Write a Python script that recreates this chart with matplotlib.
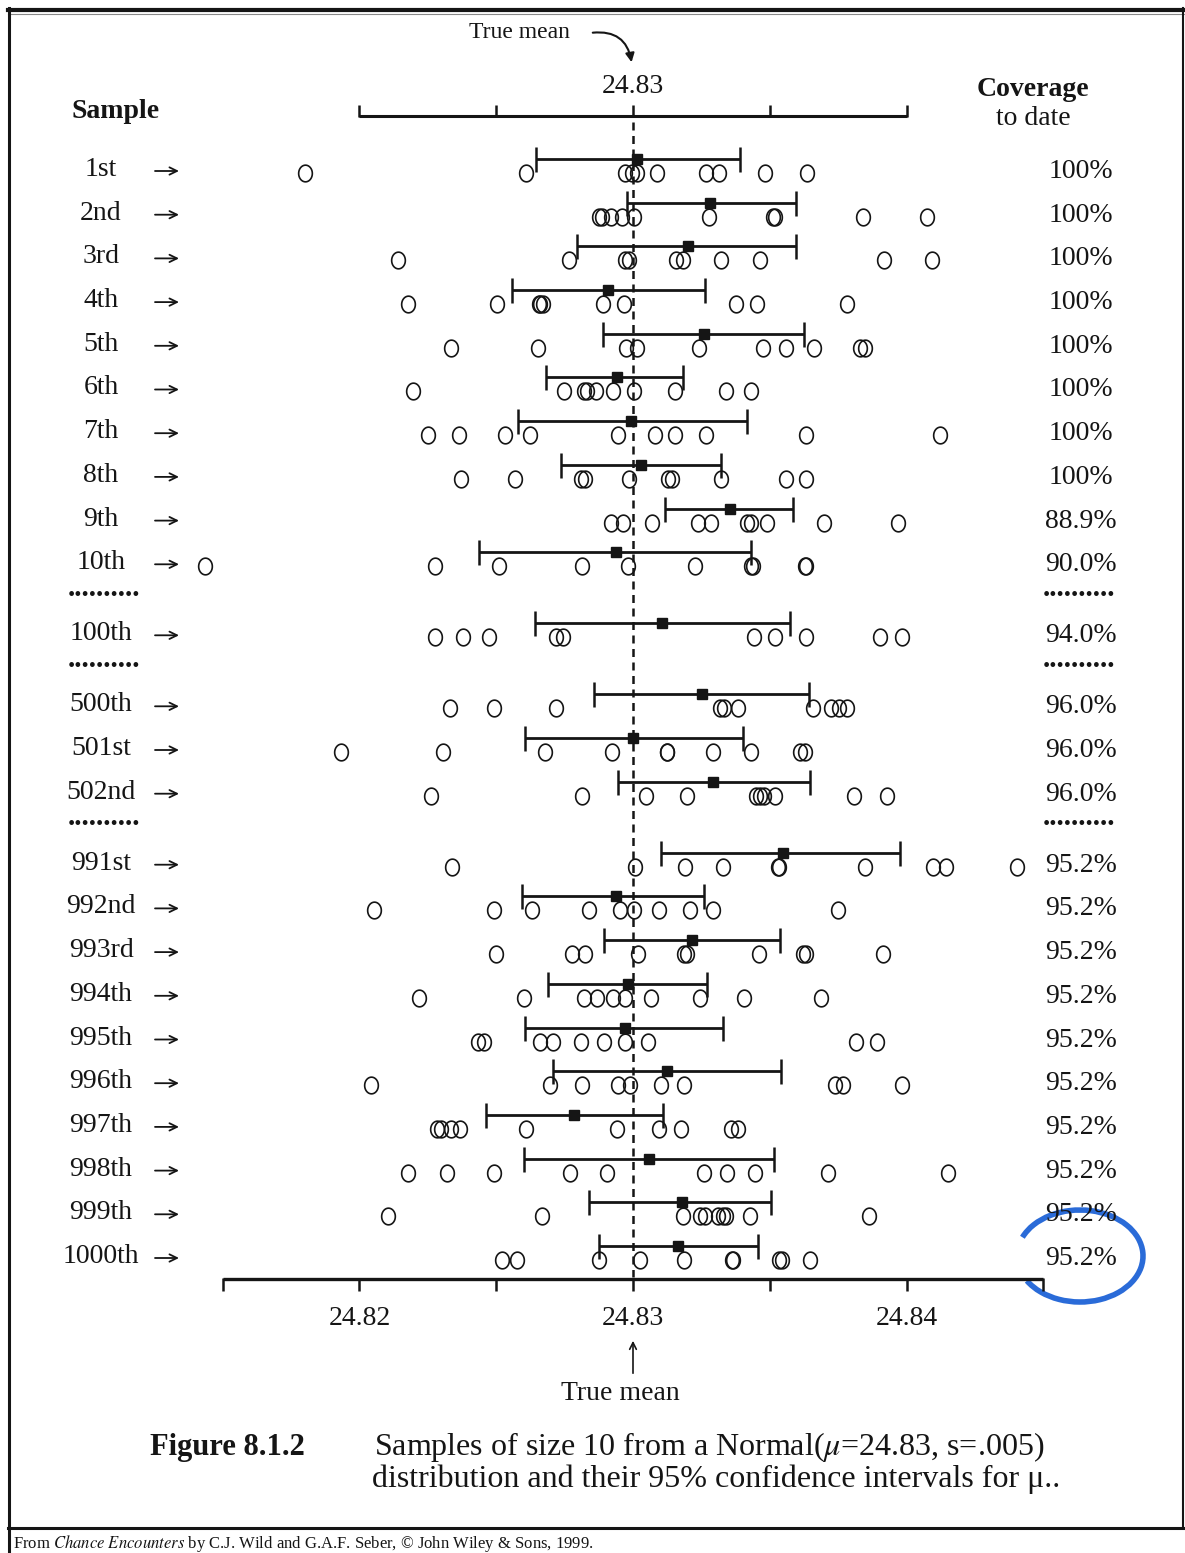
import numpy as np
import matplotlib.pyplot as plt
from matplotlib.patches import FancyArrowPatch, Arc
from matplotlib.path import Path

plt.rcParams['font.family'] = ['Liberation Serif', 'DejaVu Serif']
plt.rcParams['mathtext.fontset'] = 'stix'

TRUE_MEAN = 24.83

labels = ["1st", "2nd", "3rd", "4th", "5th", "6th", "7th", "8th", "9th", "10th",
          "100th", "500th", "501st", "502nd",
          "991st", "992nd", "993rd", "994th", "995th", "996th", "997th", "998th", "999th", "1000th"]
coverage = ["100%"] * 8 + ["88.9%", "90.0%", "94.0%", "96.0%", "96.0%", "96.0%"] + ["95.2%"] * 10

ci_low = [24.82644, 24.82978, 24.82794, 24.82559, 24.82890, 24.82683, 24.82579, 24.82738, 24.83117, 24.82438,
          24.82641, 24.82859, 24.82605, 24.82947,
          24.83102, 24.82595, 24.82894, 24.82689, 24.82605, 24.82708, 24.82462, 24.82602, 24.82839, 24.82875]
ci_mean = [24.83015, 24.83282, 24.83201, 24.82910, 24.83260, 24.82941, 24.82994, 24.83031, 24.83354, 24.82939,
           24.83107, 24.83254, 24.83000, 24.83294,
           24.83548, 24.82937, 24.83217, 24.82982, 24.82970, 24.83123, 24.82783, 24.83057, 24.83178, 24.83166]
ci_high = [24.83391, 24.83595, 24.83595, 24.83264, 24.83624, 24.83182, 24.83417, 24.83321, 24.83585, 24.83431,
           24.83573, 24.83642, 24.83403, 24.83648,
           24.83977, 24.83260, 24.83536, 24.83270, 24.83329, 24.83542, 24.83111, 24.83515, 24.83505, 24.83456]

samples = [
    [24.81802, 24.82608, 24.82970, 24.82996, 24.83015, 24.83088, 24.83266, 24.83315, 24.83481, 24.83636],
    [24.82875, 24.82885, 24.82920, 24.82959, 24.83004, 24.83276, 24.83513, 24.83520, 24.83840, 24.84075],
    [24.82140, 24.82767, 24.82970, 24.82986, 24.83156, 24.83182, 24.83323, 24.83466, 24.83916, 24.84092],
    [24.82178, 24.82504, 24.82655, 24.82660, 24.82671, 24.82890, 24.82966, 24.83378, 24.83452, 24.83783],
    [24.82336, 24.82654, 24.82976, 24.83015, 24.83241, 24.83476, 24.83558, 24.83662, 24.83828, 24.83848],
    [24.82195, 24.82747, 24.82820, 24.82833, 24.82863, 24.82927, 24.83004, 24.83155, 24.83341, 24.83432],
    [24.82252, 24.82364, 24.82532, 24.82624, 24.82947, 24.83080, 24.83152, 24.83266, 24.83634, 24.84122],
    [24.82373, 24.82569, 24.82810, 24.82826, 24.82986, 24.83127, 24.83143, 24.83323, 24.83558, 24.83632],
    [24.82918, 24.82963, 24.83068, 24.83237, 24.83284, 24.83417, 24.83432, 24.83491, 24.83697, 24.83969],
    [24.81436, 24.82277, 24.82512, 24.82814, 24.82982, 24.83227, 24.83432, 24.83440, 24.83627, 24.83632],
    [24.82277, 24.82379, 24.82473, 24.82718, 24.82745, 24.83442, 24.83520, 24.83632, 24.83902, 24.83985],
    [24.82332, 24.82493, 24.82718, 24.83319, 24.83334, 24.83383, 24.83658, 24.83724, 24.83754, 24.83783],
    [24.81931, 24.82305, 24.82677, 24.82925, 24.83123, 24.83126, 24.83294, 24.83431, 24.83611, 24.83628],
    [24.82260, 24.82812, 24.83049, 24.83198, 24.83450, 24.83466, 24.83480, 24.83520, 24.83809, 24.83930],
    [24.82340, 24.83008, 24.83190, 24.83329, 24.83529, 24.83534, 24.83848, 24.84096, 24.84145, 24.84402],
    [24.82052, 24.82491, 24.82630, 24.82839, 24.82951, 24.83002, 24.83094, 24.83207, 24.83292, 24.83750],
    [24.82501, 24.82777, 24.82826, 24.83018, 24.83188, 24.83198, 24.83460, 24.83622, 24.83632, 24.83912],
    [24.82219, 24.82602, 24.82820, 24.82869, 24.82927, 24.82970, 24.83064, 24.83245, 24.83405, 24.83687],
    [24.82434, 24.82454, 24.82659, 24.82708, 24.82810, 24.82894, 24.82970, 24.83055, 24.83814, 24.83893],
    [24.82042, 24.82698, 24.82812, 24.82947, 24.82990, 24.83103, 24.83186, 24.83740, 24.83769, 24.83985],
    [24.82285, 24.82297, 24.82336, 24.82369, 24.82610, 24.82941, 24.83094, 24.83176, 24.83358, 24.83382],
    [24.82179, 24.82320, 24.82491, 24.82771, 24.82904, 24.83260, 24.83344, 24.83446, 24.83711, 24.84151],
    [24.82105, 24.82667, 24.83184, 24.83245, 24.83264, 24.83309, 24.83329, 24.83339, 24.83429, 24.83863],
    [24.82522, 24.82575, 24.82875, 24.83025, 24.83186, 24.83362, 24.83366, 24.83534, 24.83546, 24.83648],
]

top_ticks = [24.82, 24.825, 24.83, 24.835, 24.84]
bottom_ticks = [24.815, 24.82, 24.825, 24.83, 24.835, 24.84, 24.845]
bottom_labels = [24.82, 24.83, 24.84]

W, H = 1185, 1553
PX_PER_UNIT = 27360
X_MEAN_PX = 633
ink = '#151515'

fig = plt.figure(figsize=(W / 100, H / 100), dpi=100)
deco = fig.add_axes([0, 0, 1, 1])
deco.set_xlim(0, W)
deco.set_ylim(H, 0)
deco.axis('off')

ax = fig.add_axes([0, 0, 1, 1])
ax.patch.set_alpha(0)
ax.set_xlim(TRUE_MEAN - X_MEAN_PX / PX_PER_UNIT, TRUE_MEAN + (W - X_MEAN_PX) / PX_PER_UNIT)
ax.set_ylim(H, 0)
ax.axis('off')

# row positions (pixels); dotted separator rows are a bit tighter
dot_after = {"10th", "100th", "502nd"}
row_y, dot_y = [], []
y = 167
for lab in labels:
    row_y.append(y)
    if lab in dot_after:
        dot_y.append(y + 35.5)
        y += 71
    else:
        y += 43.7

# slightly tall open circle marker, like the scan
t = np.linspace(0, 2 * np.pi, 60)
oval = Path(np.column_stack([0.82 * np.cos(t), np.sin(t)]), closed=True)

# true mean dashed line
ax.plot([TRUE_MEAN, TRUE_MEAN], [122, 1277], color=ink, lw=1.8, dashes=(3.2, 2.2))

for i, lab in enumerate(labels):
    yc = row_y[i]
    ax.errorbar([ci_mean[i]], [yc - 8],
                xerr=[[ci_mean[i] - ci_low[i]], [ci_high[i] - ci_mean[i]]],
                fmt='s', color=ink, ms=7.5, capsize=9, capthick=1.8, elinewidth=2.0)
    ax.plot(samples[i], [yc + 6] * len(samples[i]), ls='none', marker=oval, ms=12,
            mfc='none', mec=ink, mew=1.2)
    deco.text(101, yc + 9, lab, ha='center', va='baseline', fontsize=20, color=ink)
    deco.add_patch(FancyArrowPatch((155, yc + 4), (179, yc + 4), arrowstyle='->,head_length=0.45,head_width=0.22',
                                   mutation_scale=12, lw=1.3, color=ink, shrinkA=0, shrinkB=0))
    deco.text(1081, yc + 11, coverage[i], ha='center', va='baseline', fontsize=20, color=ink)

for dy in dot_y:
    deco.text(104, dy, '..........', ha='center', va='baseline', fontsize=21,
              fontweight='bold', color=ink)
    deco.text(1079, dy, '..........', ha='center', va='baseline', fontsize=21,
              fontweight='bold', color=ink)

# top scale
ax.hlines(116, top_ticks[0], top_ticks[-1], color=ink, lw=2.2)
ax.vlines(top_ticks, 105, 117, color=ink, lw=1.8)
ax.text(TRUE_MEAN, 93, '24.83', ha='center', va='baseline', fontsize=20, color=ink)

# bottom scale
ax.hlines(1279, bottom_ticks[0], bottom_ticks[-1], color=ink, lw=2.4)
ax.vlines(bottom_ticks, 1278, 1291, color=ink, lw=1.8)
for v in bottom_labels:
    ax.text(v, 1325, f'{v:.2f}', ha='center', va='baseline', fontsize=20, color=ink)

# headers
deco.text(116, 118, 'Sample', ha='center', va='baseline', fontsize=20, fontweight='bold', color=ink)
deco.text(1033, 96, 'Coverage', ha='center', va='baseline', fontsize=20, fontweight='bold', color=ink)
deco.text(1033, 125, 'to date', ha='center', va='baseline', fontsize=20, color=ink)

# "True mean" arrows
deco.text(519, 38, 'True mean', ha='center', va='baseline', fontsize=17, color=ink)
deco.add_patch(FancyArrowPatch((590, 33), (632, 65), connectionstyle='arc3,rad=-0.5',
                               arrowstyle='-|>', mutation_scale=13, lw=1.5, color=ink))
deco.text(620, 1400, 'True mean', ha='center', va='baseline', fontsize=20, color=ink)
deco.add_patch(FancyArrowPatch((633, 1376), (633, 1338), arrowstyle='->',
                               mutation_scale=12, lw=1.2, color=ink))

# caption
deco.text(150, 1455, 'Figure 8.1.2', ha='left', va='baseline', fontsize=22, fontweight='bold', color=ink)
deco.text(374, 1455, r'Samples of size 10 from a Normal($\mu$=24.83, s=.005)',
          ha='left', va='baseline', fontsize=23, color=ink)
deco.text(372, 1487, 'distribution and their 95% confidence intervals for μ..',
          ha='left', va='baseline', fontsize=23, color=ink)

# frame
deco.plot([8, W], [10, 10], color=ink, lw=3)
deco.plot([8, W], [13.5, 13.5], color='#888888', lw=0.8)
deco.plot([9, 9], [8, H], color=ink, lw=2.2)
deco.plot([1183, 1183], [8, 1528], color=ink, lw=1.5)
deco.plot([8, W], [1528, 1528], color=ink, lw=2.2)
deco.text(13, 1548, r'From $\mathit{Chance\ Encounters}$ by C.J. Wild and G.A.F. Seber, © John Wiley & Sons, 1999.',
          ha='left', va='baseline', fontsize=12, color=ink)

# blue hand-drawn loop around the final coverage
deco.add_patch(Arc((1080, 1256), 126, 92, theta1=198, theta2=515, color='#2a6bd8', lw=4))

fig.savefig('out.png', dpi=100)
